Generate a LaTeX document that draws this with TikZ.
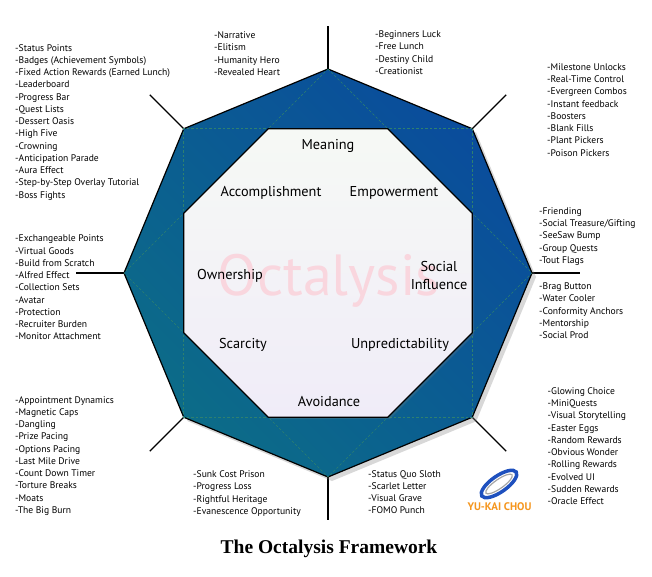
\documentclass[tikz,border=0pt]{standalone}
\usepackage{fontspec}
\setmainfont{Liberation Serif}
\newfontfamily\gill{PT Sans}
\usetikzlibrary{shadows}

\definecolor{ringblue}{RGB}{10,76,156}
\definecolor{ringteal}{RGB}{12,108,136}
\definecolor{guidegreen}{RGB}{46,128,112}
\definecolor{innertop}{RGB}{246,249,245}
\definecolor{innerbot}{RGB}{240,236,248}
\definecolor{wmpink}{RGB}{249,214,222}
\definecolor{logoblue}{RGB}{30,80,190}
\definecolor{logoorange}{RGB}{245,150,30}

\begin{document}
\begin{tikzpicture}[x=1pt,y=-1pt]
    \tikzstyle{feat}=[anchor=north west,align=left,inner sep=0pt,font=\gill\fontsize{9.6}{12.25}\selectfont]
    \tikzstyle{core}=[anchor=base,inner sep=0pt,font=\gill\fontsize{14.3}{17.5}\selectfont]
    \tikzstyle{spoke}=[line width=1.4pt,draw=black]
    \tikzstyle{guide}=[dash pattern=on 2.5pt off 2pt,line width=0.6pt,draw=guidegreen]
    \useasboundingbox[fill=white] (0,0) rectangle (652,577);
    \begin{scope}[shift={(328,273)}]
        \foreach \i in {0,...,7} {
            \coordinate (o\i) at (-90+45*\i:204);
            \coordinate (n\i) at (-67.5+45*\i:156.1);
        }
        \foreach \i/\r in {0/247,1/252,2/252,3/252,4/247,5/252,6/252,7/252}
            \coordinate (s\i) at (-90+45*\i:\r);
    \end{scope}
    \foreach \i in {0,...,7}
        \draw[spoke] (o\i) -- (s\i);
    \draw[line width=1.2pt,left color=ringteal,right color=ringblue,shading angle=135,
        drop shadow={shadow xshift=4pt,shadow yshift=-4pt,opacity=0.3}]
        (o0) -- (o1) -- (o2) -- (o3) -- (o4) -- (o5) -- (o6) -- (o7) -- cycle;
    \draw[guide] (o1) -- (o3) -- (o5) -- (o7) -- cycle;
    \draw[guide] (o0) -- (o2) -- (o4) -- (o6) -- cycle;
    \draw[line width=1.3pt,top color=innertop,bottom color=innerbot,
        drop shadow={shadow xshift=2pt,shadow yshift=-2pt,opacity=0.25}]
        (n0) -- (n1) -- (n2) -- (n3) -- (n4) -- (n5) -- (n6) -- (n7) -- cycle;
    \node[anchor=base,inner sep=0pt,text=wmpink,font=\gill\fontsize{58}{58}\selectfont] (wmark) at (329,295) {Octalysis};

    \node[core] (meaning) at (328,150) {Meaning};
    \node[core] (accomp) at (271,196.7) {Accomplishment};
    \node[core] (empower) at (394,196.7) {Empowerment};
    \node[core] (owner) at (230,279) {Ownership};
    \node[core,align=center] (social) at (439,289) {Social\\Influence};
    \node[core] (scarce) at (243,348) {Scarcity};
    \node[core] (unpred) at (400,348) {Unpredictability};
    \node[core] (avoid) at (329,406.7) {Avoidance};

    \node[feat] (accl) at (15,44) {-Status Points\\-Badges (Achievement Symbols)\\-Fixed Action Rewards (Earned Lunch)\\-Leaderboard\\-Progress Bar\\-Quest Lists\\-Dessert Oasis\\-High Five\\-Crowning\\-Anticipation Parade\\-Aura Effect\\-Step-by-Step Overlay Tutorial\\-Boss Fights};
    \node[feat] (meanA) at (214,31.7) {-Narrative\\-Elitism\\-Humanity Hero\\-Revealed Heart};
    \node[feat] (meanB) at (375,30.7) {-Beginners Luck\\-Free Lunch\\-Destiny Child\\-Creationist};
    \node[feat] (empl) at (547,63.4) {-Milestone Unlocks\\-Real-Time Control\\-Evergreen Combos\\-Instant feedback\\-Boosters\\-Blank Fills\\-Plant Pickers\\-Poison Pickers};
    \node[feat] (socA) at (539,207.4) {-Friending\\-Social Treasure/Gifting\\-SeeSaw Bump\\-Group Quests\\-Tout Flags};
    \node[feat] (socB) at (539,282.7) {-Brag Button\\-Water Cooler\\-Conformity Anchors\\-Mentorship\\-Social Prod};
    \node[feat] (ownl) at (15,235) {-Exchangeable Points\\-Virtual Goods\\-Build from Scratch\\-Alfred Effect\\-Collection Sets\\-Avatar\\-Protection\\-Recruiter Burden\\-Monitor Attachment};
    \node[feat] (scal) at (15,396) {-Appointment Dynamics\\-Magnetic Caps\\-Dangling\\-Prize Pacing\\-Options Pacing\\-Last Mile Drive\\-Count Down Timer\\-Torture Breaks\\-Moats\\-The Big Burn};
    \node[feat] (avoA) at (193,470.7) {-Sunk Cost Prison\\-Progress Loss\\-Rightful Heritage\\-Evanescence Opportunity};
    \node[feat] (avoB) at (368,470) {-Status Quo Sloth\\-Scarlet Letter\\-Visual Grave\\-FOMO Punch};
    \node[feat] (unpl) at (547.5,387.4) {-Glowing Choice\\-MiniQuests\\-Visual Storytelling\\-Easter Eggs\\-Random Rewards\\-Obvious Wonder\\-Rolling Rewards\\-Evolved UI\\-Sudden Rewards\\-Oracle Effect};

    \draw[line width=3.5pt,logoblue,rotate around={35:(499,484)}] (499,484) ellipse (21 and 8);
    \draw[line width=1.2pt,black!35,rotate around={35:(499,484)}] (499,484) ellipse (16 and 4.5);
    \node[inner sep=0pt,text=logoorange,font=\gill\bfseries\fontsize{11}{11}\selectfont] (logo) at (499.5,507) {YU-KAI CHOU};

    \node[anchor=base,inner sep=0pt,font=\bfseries\fontsize{19.5}{22}\selectfont] (title) at (329,553.3) {The Octalysis Framework};
\end{tikzpicture}
\end{document}
